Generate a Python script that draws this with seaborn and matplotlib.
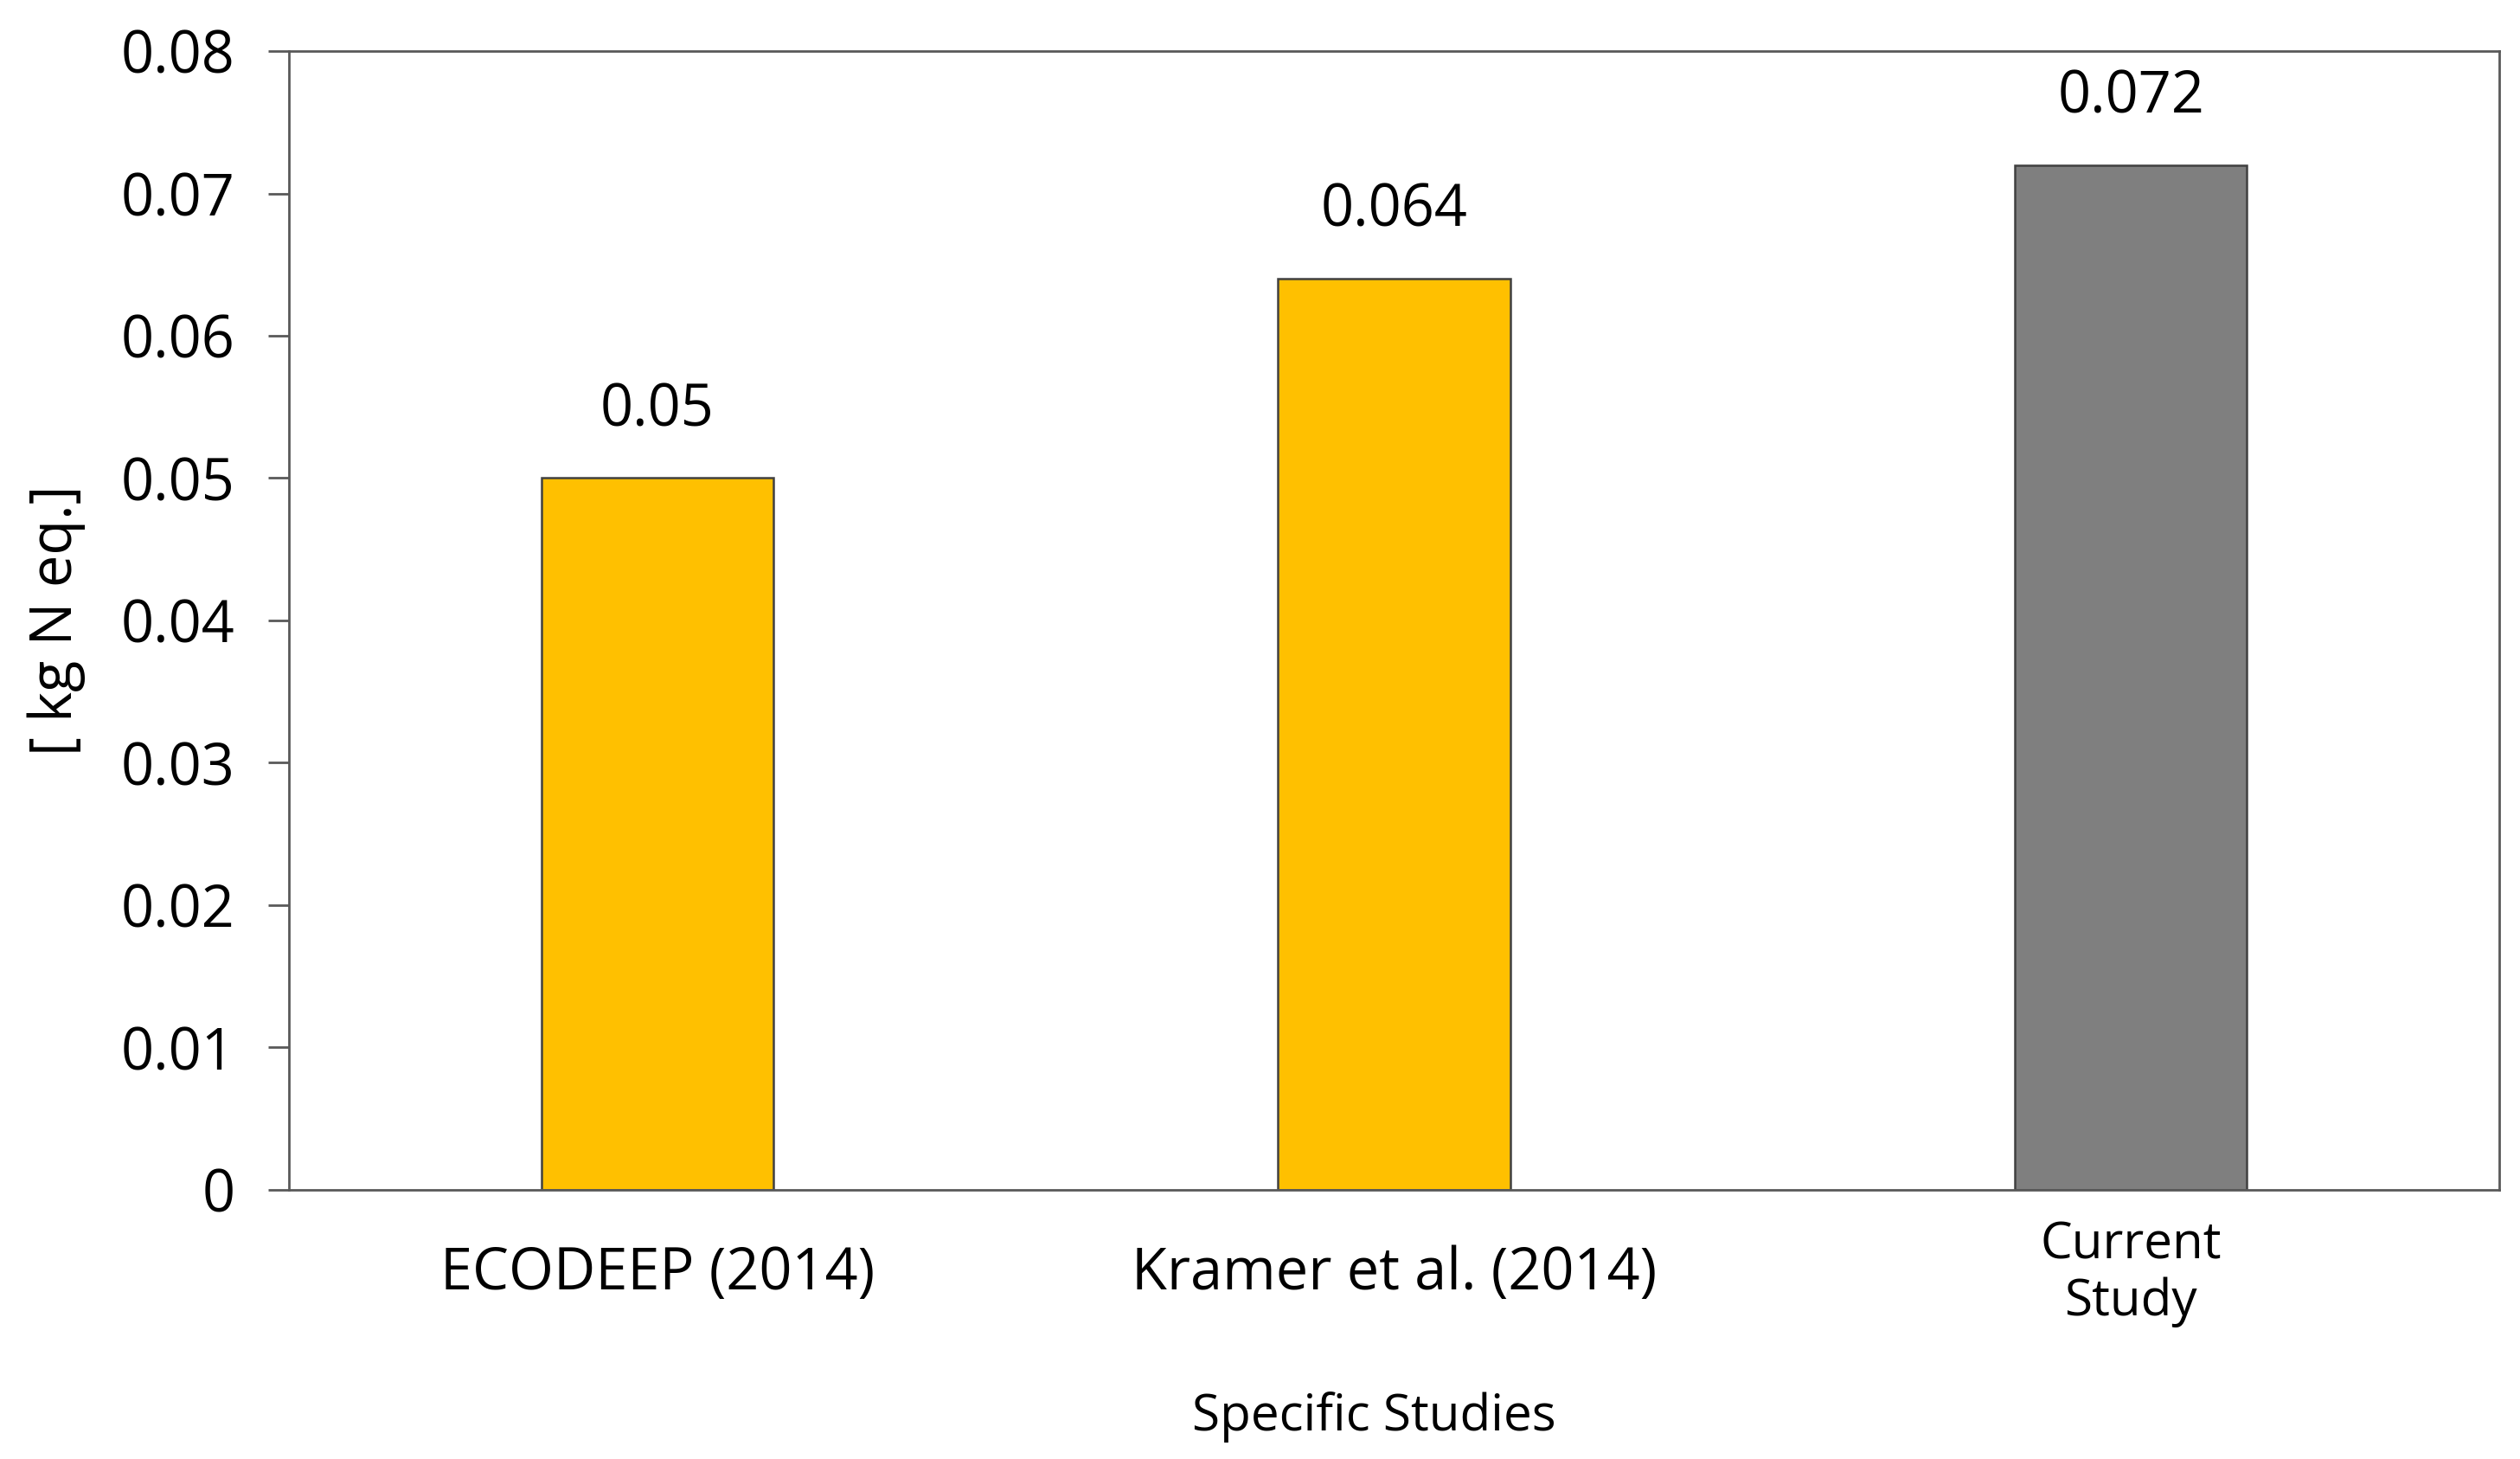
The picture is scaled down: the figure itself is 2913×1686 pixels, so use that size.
import matplotlib
matplotlib.use("Agg")
import matplotlib.pyplot as plt
import seaborn as sns
import pandas as pd

# values
studies = ["ECODEEP (2014)", "Kramer et al. (2014)", "Current\nStudy"]
values = [0.05, 0.064, 0.072]
value_labels = ["0.05", "0.064", "0.072"]
bar_colors = ["#FFC000", "#FFC000", "#7F7F7F"]
y_ticks = [0, 0.01, 0.02, 0.03, 0.04, 0.05, 0.06, 0.07, 0.08]
y_tick_labels = ["0", "0.01", "0.02", "0.03", "0.04", "0.05", "0.06", "0.07", "0.08"]

sns.set_theme(style="white")
plt.rcParams["font.family"] = ["Open Sans", "DejaVu Sans"]
plt.rcParams["text.color"] = "black"
plt.rcParams["xtick.color"] = "black"
plt.rcParams["ytick.color"] = "black"
plt.rcParams["axes.labelcolor"] = "black"

df = pd.DataFrame({"study": studies, "value": values})

fig = plt.figure(figsize=(14.565, 8.43), dpi=200)
ax = fig.add_axes([0.1147, 0.1845, 0.8771, 0.7805])

sns.barplot(
    data=df, x="study", y="value", hue="study", palette=bar_colors,
    saturation=1, width=0.315, edgecolor="#404040", linewidth=0.9,
    legend=False, ax=ax,
)

ax.set_xlim(-0.5, 2.5)
ax.set_ylim(0, 0.08)
ax.set_yticks(y_ticks)
ax.set_yticklabels(y_tick_labels, fontsize=24)
ax.tick_params(axis="y", direction="out", length=8.5, width=1, color="#595959",
               pad=14, left=True)
ax.tick_params(axis="x", length=0, pad=35)
for lab in ax.get_xticklabels():
    lab.set_verticalalignment("center")
    lab.set_fontsize(24)
ax.get_xticklabels()[2].set_fontsize(21)
ax.get_xticklabels()[2].set_linespacing(1.15)

for spine in ax.spines.values():
    spine.set_visible(True)
    spine.set_color("#595959")
    spine.set_linewidth(1.0)

for i, (v, txt) in enumerate(zip(values, value_labels)):
    ax.annotate(txt, (i, v), xytext=(0, 16), textcoords="offset points",
                ha="center", va="bottom", fontsize=24, color="black")

ax.set_xlabel("Specific Studies", fontsize=21)
ax.set_ylabel("[ kg N eq.]", fontsize=24)
ax.yaxis.set_label_coords(-0.092, 0.5)
ax.xaxis.set_label_coords(0.491, -0.177)

fig.savefig("out.png", dpi=200)
